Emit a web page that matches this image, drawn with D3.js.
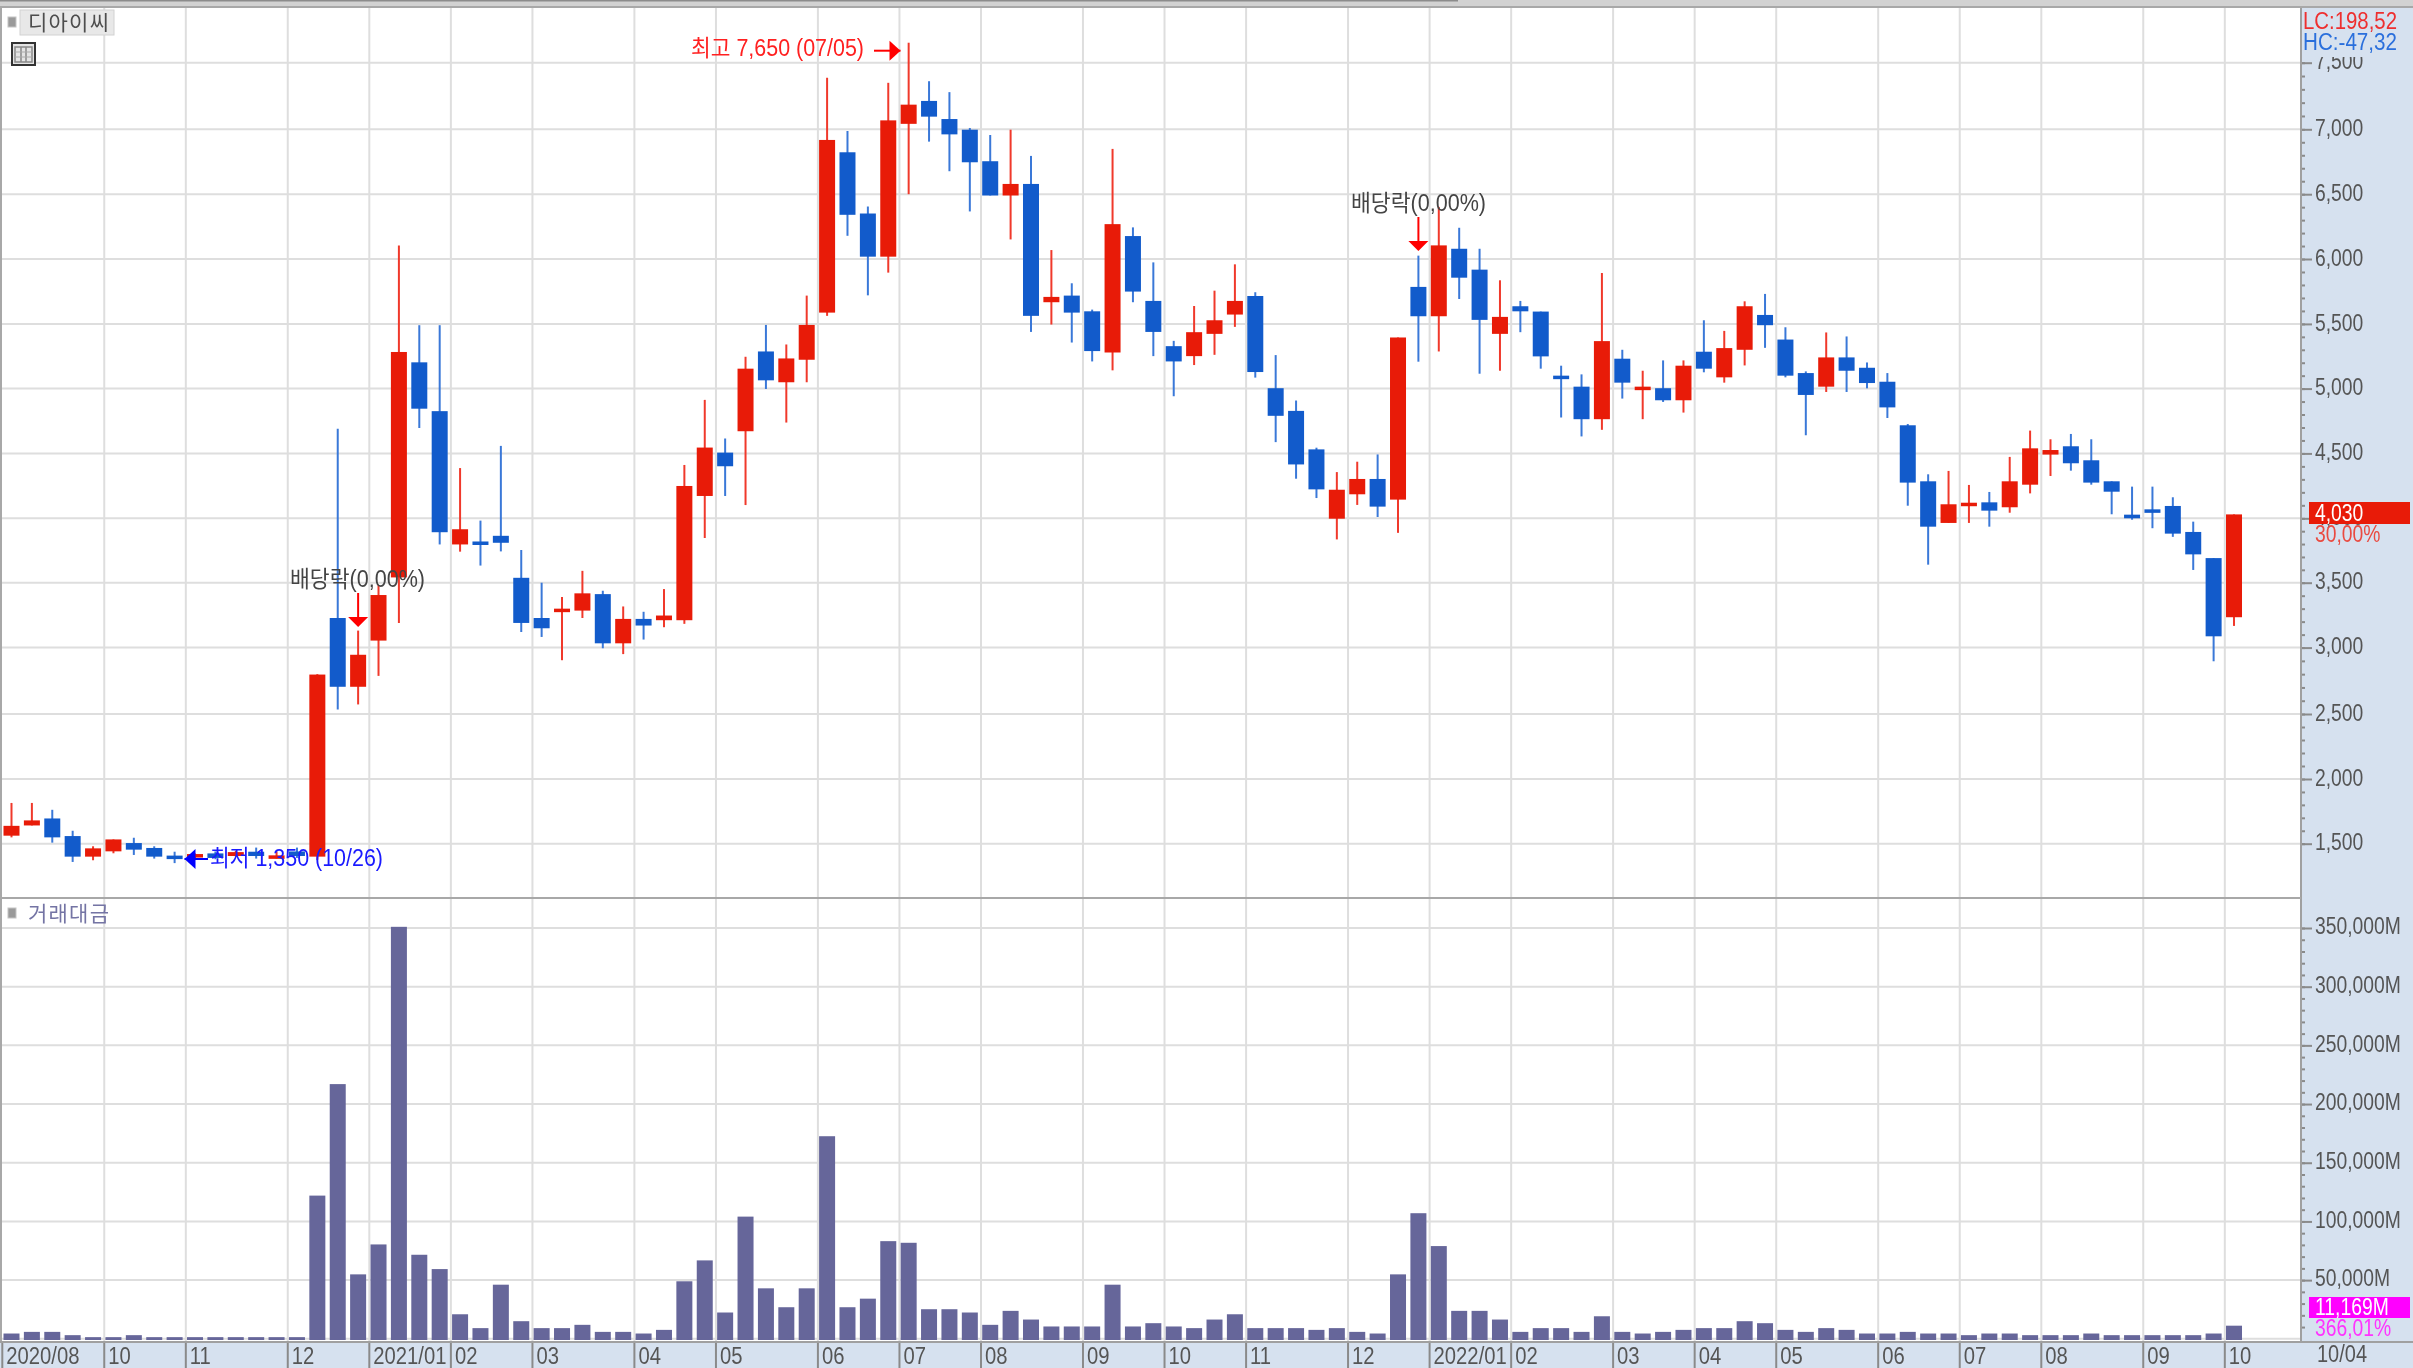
<!DOCTYPE html>
<html lang="ko">
<head>
  <meta charset="UTF-8" />
  <title>디아이씨</title>
  <script src="https://d3js.org/d3.v7.min.js"></script>
  <style>
    html, body { margin: 0; background: #fff; }
    svg { display: block; filter: blur(0.35px); }
    text { font-family: "Liberation Sans", "Noto Sans CJK KR", sans-serif; font-size: 23px; }
    .kr { font-family: "Noto Sans CJK KR", sans-serif; }
    .tick line { stroke: #8a8a8a; stroke-width: 2px; }
    .tick text { fill: #555; }
    .domain { display: none; }
  </style>
</head>
<body>
<svg width="2413" height="1368"></svg>

<script>
// weekly candles, 2020/08/31 .. 2022/10/03
const opens = [1562,1641,1695,1559,1400,1441,1505,1467,1408,1395,1425,1405,1438,1400,1440,1400,3228,2705,3054,3541,5203,4826,3797,3820,3864,3538,3228,3285,3285,3412,3033,3221,3211,3211,4172,4506,4671,5287,5049,5223,5587,6823,6351,6018,7041,7213,7077,6997,6754,6490,6579,5667,5718,5597,5279,6177,5677,5328,5251,5423,5572,5715,5003,4828,4531,3997,4185,4303,4144,5785,5559,6079,5918,5423,5636,5595,5100,5015,4764,5231,4992,5003,4910,5285,5087,5300,5569,5379,5120,5015,5241,5161,5053,4717,4285,3964,4097,4123,4085,4259,4491,4555,4447,4285,4028,4069,4095,3894,3691,3234];
const highs = [1815,1815,1762,1600,1480,1533,1546,1480,1438,1425,1440,1445,1470,1440,1470,2800,4690,3131,3482,6105,5490,5490,4387,3982,4558,3754,3500,3390,3592,3438,3317,3276,3451,4411,4913,4615,5246,5492,5341,5718,7387,6987,6405,7349,7650,7361,7279,7010,6956,6997,6795,6069,5813,5610,6849,6244,5974,5369,5638,5756,5959,5744,5259,4908,4544,4356,4436,4492,5395,6026,6402,6241,6079,5836,5677,5595,5177,5110,5892,5300,5138,5218,5218,5528,5446,5674,5731,5474,5133,5434,5403,5202,5120,4727,4339,4365,4257,4203,4473,4676,4609,4650,4609,4285,4244,4244,4162,3974,3691,4030];
const lows = [1549,1641,1508,1359,1372,1426,1413,1385,1350,1385,1380,1400,1385,1385,1390,1375,2533,2572,2787,3190,4696,3797,3741,3633,3743,3120,3082,2905,3228,2995,2951,3062,3157,3183,3847,4172,4102,4997,4738,5049,5562,6179,5720,5895,6500,6905,6677,6367,6490,6151,5438,5495,5356,5210,5141,5667,5251,4941,5182,5261,5477,5085,4587,4305,4156,3836,4103,4010,3887,5208,5287,5692,5115,5138,5436,5154,4777,4631,4682,4923,4764,4897,4815,5126,5046,5179,5315,5087,4640,4974,4974,5002,4773,4097,3640,3964,3964,3935,4043,4192,4326,4367,4259,4031,3989,3923,3856,3599,2897,3167];
const closes = [1638,1680,1549,1400,1464,1533,1454,1400,1392,1420,1390,1435,1405,1410,1405,2797,2705,2946,3405,5283,4845,3892,3915,3797,3810,3190,3149,3300,3418,3033,3221,3170,3247,4249,4545,4401,5154,5064,5233,5492,6918,6341,6018,7067,7185,7095,6961,6746,6490,6579,5562,5708,5587,5290,6269,5749,5438,5210,5436,5528,5677,5128,4790,4415,4223,4220,4303,4090,5395,5559,6105,5856,5531,5554,5597,5249,5085,4764,5367,5046,5015,4910,5177,5154,5313,5636,5490,5100,4951,5241,5138,5043,4855,4275,3935,4108,4120,4059,4285,4539,4526,4424,4275,4205,4000,4043,3881,3720,3087,4030];
const volumes = [4500,5900,5900,3100,1400,1400,3100,1400,1400,1400,1400,1400,1400,1400,1400,122000,217000,54900,80400,351000,71600,59400,20900,9100,46100,15000,9100,9100,11900,5900,5900,4500,7600,49000,66800,22400,104100,43000,26900,43000,172600,26900,34200,83200,81800,25200,25200,22400,11900,23800,16400,10500,10500,10500,46100,10500,13300,10500,9100,16400,20900,9100,9100,9100,7600,9100,5900,4500,54900,107000,79000,23800,23800,16400,5900,9100,9100,5900,19200,5900,4500,5900,7600,9100,9100,15000,13300,7600,5900,9100,7600,4500,4500,5900,4500,4500,3100,4500,4500,3100,3100,3100,4500,3100,3100,3100,3100,3100,4500,11169];

// candle index of each month's first week, and its label
const monthStarts = [0,5,9,14,18,22,26,31,35,40,44,48,53,57,61,66,70,74,79,83,87,92,96,100,105,109];
const monthLabels = ["2020/08","10","11","12","2021/01","02","03","04","05","06","07","08","09","10","11","12","2022/01","02","03","04","05","06","07","08","09","10"];

const priceTicks = [1500,2000,2500,3000,3500,4000,4500,5000,5500,6000,6500,7000,7500];
const volumeTicks = [50000,100000,150000,200000,250000,300000,350000];

const RED = "#e81b08", BLUE = "#125bcb", RED_WICK = "#f0392b", BLUE_WICK = "#3a78d8";
const VOL = "#66669a", GRID = "#dedede", PANEL = "#d6e1ef";
const AXIS_X = 2301, BOTTOM = 1342;

const svg = d3.select("svg");
const n = opens.length;

const x = d3.scaleBand().domain(d3.range(n)).range([1.3, 1.3 + n * 20.39]);
const cx = i => x(i) + x.bandwidth() / 2;
const y = d3.scaleLinear()
  .domain(priceTicks)
  .range([843.7,779,714,647.6,582.7,518.3,453.4,388.6,323.9,259,194.2,129.3,62.7]);
const yVol = d3.scaleLinear().domain([0, 350000]).range([1338.8, 928]);

// squeeze a text horizontally, the original uses a narrow bitmap font
function squeeze(sel, k) {
  sel.each(function() {
    const len = this.getComputedTextLength();
    d3.select(this).attr("textLength", len * k).attr("lengthAdjust", "spacingAndGlyphs");
  });
}
function label(xx, yy, color, str, width) {
  const t = svg.append("text").attr("x", xx).attr("y", yy).attr("fill", color).text(str);
  if (width) t.attr("textLength", width).attr("lengthAdjust", "spacingAndGlyphs");
  else squeeze(t, 0.84);
  return t;
}

// panels
svg.append("rect").attr("x", AXIS_X).attr("y", 0).attr("width", 112).attr("height", 1368).attr("fill", PANEL);
svg.append("rect").attr("x", 0).attr("y", BOTTOM).attr("width", 2413).attr("height", 26).attr("fill", PANEL);

// grid
const grid = svg.append("g");
grid.selectAll(".vgrid")
  .data(monthStarts.slice(1))
  .enter().append("line")
  .attr("x1", d => x(d) + 1).attr("x2", d => x(d) + 1)
  .attr("y1", 8).attr("y2", BOTTOM)
  .attr("stroke", GRID).attr("stroke-width", 2);
grid.selectAll(".hgrid")
  .data(priceTicks)
  .enter().append("line")
  .attr("x1", 2).attr("x2", AXIS_X)
  .attr("y1", d => y(d)).attr("y2", d => y(d))
  .attr("stroke", GRID).attr("stroke-width", 2);
grid.selectAll(".vgridh")
  .data([0].concat(volumeTicks))
  .enter().append("line")
  .attr("x1", 2).attr("x2", AXIS_X)
  .attr("y1", d => yVol(d)).attr("y2", d => yVol(d))
  .attr("stroke", GRID).attr("stroke-width", 2);

// volume bars
svg.selectAll(".vol")
  .data(volumes)
  .enter().append("rect")
  .attr("x", (d, i) => cx(i) - 8)
  .attr("width", 16)
  .attr("y", d => yVol(d))
  .attr("height", d => 1340 - yVol(d))
  .attr("fill", VOL);

// candles
const candles = svg.selectAll(".candle")
  .data(d3.range(n))
  .enter().append("g");
candles.append("line")
  .attr("x1", cx).attr("x2", cx)
  .attr("y1", i => y(highs[i])).attr("y2", i => y(lows[i]))
  .attr("stroke", i => closes[i] >= opens[i] ? RED_WICK : BLUE_WICK)
  .attr("stroke-width", 2);
candles.append("rect")
  .attr("x", i => cx(i) - 8)
  .attr("width", 16)
  .attr("y", i => y(Math.max(opens[i], closes[i])))
  .attr("height", i => Math.max(3.5, Math.abs(y(opens[i]) - y(closes[i]))))
  .attr("fill", i => closes[i] >= opens[i] ? RED : BLUE);

// price axis
const priceAxis = svg.append("g").attr("transform", `translate(${AXIS_X},0)`)
  .call(d3.axisRight(y).tickValues(priceTicks).tickSize(11).tickPadding(3).tickFormat(d3.format(",")));
svg.append("g").attr("transform", `translate(${AXIS_X},0)`)
  .call(d3.axisRight(y).tickValues(d3.range(1500, 7600, 100)).tickSize(4).tickFormat(""));

// volume axis
const volAxis = svg.append("g").attr("transform", `translate(${AXIS_X},0)`)
  .call(d3.axisRight(yVol).tickValues(volumeTicks).tickSize(11).tickPadding(3).tickFormat(d => d3.format(",")(d) + "M"));
svg.append("g").attr("transform", `translate(${AXIS_X},0)`)
  .call(d3.axisRight(yVol).tickValues(d3.range(10000, 360000, 10000)).tickSize(4).tickFormat(""));

// date axis
const dateAxis = svg.append("g")
  .attr("transform", `translate(${1 - x.bandwidth() / 2},${BOTTOM})`)
  .call(d3.axisBottom(x).tickValues(monthStarts).tickSize(26).tickFormat(d => monthLabels[monthStarts.indexOf(d)]));
dateAxis.selectAll(".tick text")
  .attr("text-anchor", "start").attr("x", 4).attr("y", 4).attr("dy", "0.8em");

priceAxis.selectAll(".tick text").attr("dy", "0.27em");
volAxis.selectAll(".tick text").attr("dy", "0.25em");
squeeze(priceAxis.selectAll(".tick text"), 0.84);
squeeze(volAxis.selectAll(".tick text"), 0.84);
squeeze(dateAxis.selectAll(".tick text"), 0.88);

// axis frame
svg.append("rect").attr("x", AXIS_X - 1).attr("y", 6).attr("width", 2).attr("height", BOTTOM - 6).attr("fill", "#a0a0a0");
svg.append("rect").attr("x", 0).attr("y", 6).attr("width", 2).attr("height", BOTTOM - 6).attr("fill", "#a8a8a8");
svg.append("rect").attr("x", 0).attr("y", 897).attr("width", AXIS_X).attr("height", 2).attr("fill", "#a8a8a8");
svg.append("rect").attr("x", 0).attr("y", BOTTOM - 1).attr("width", 2413).attr("height", 2).attr("fill", "#a0a0a0");
svg.append("rect").attr("x", 0).attr("y", 0).attr("width", 2413).attr("height", 6).attr("fill", "#d2d2d2");
svg.append("rect").attr("x", 0).attr("y", 0).attr("width", 1458).attr("height", 1.5).attr("fill", "#8c8c8c");
svg.append("rect").attr("x", 0).attr("y", 6).attr("width", 2413).attr("height", 2).attr("fill", "#a8a8a8");

// axis date at the far right
label(2317, 1362, "#555", "10/04", 50);

// top-right readouts, they sit on top of the 7,500 label
svg.append("rect").attr("x", AXIS_X + 1).attr("y", 8).attr("width", 111).attr("height", 49).attr("fill", PANEL);
label(2303, 29, "#ee2f2f", "LC:198,52", 94);
label(2303, 50, "#2a6fdc", "HC:-47,32", 94);

// last price / last volume boxes
svg.append("rect").attr("x", 2309).attr("y", 502).attr("width", 101).attr("height", 22).attr("fill", RED);
label(2315, 521, "#fff", "4,030");
label(2315, 542, "#ea4a40", "30,00%");
svg.append("rect").attr("x", 2309).attr("y", 1297).attr("width", 101).attr("height", 21).attr("fill", "#ff00ff");
label(2315, 1315, "#fff", "11,169M");
label(2315, 1336, "#ff33ff", "366,01%");

// annotations
function arrowH(x1, tip, yy, color) {
  const dir = tip > x1 ? -1 : 1;
  svg.append("line").attr("x1", x1).attr("x2", tip).attr("y1", yy).attr("y2", yy).attr("stroke", color).attr("stroke-width", 2);
  svg.append("path").attr("d", d3.line()([[tip, yy], [tip + dir * 11, yy - 10], [tip + dir * 11, yy + 10]])).attr("fill", color);
}
function arrowDown(xx, y1, tip, color) {
  svg.append("line").attr("x1", xx).attr("x2", xx).attr("y1", y1).attr("y2", tip - 8).attr("stroke", color).attr("stroke-width", 2);
  svg.append("path").attr("d", d3.line()([[xx, tip], [xx - 10, tip - 10], [xx + 10, tip - 10]])).attr("fill", color);
}
label(691, 56, "#ff2020", "최고 7,650 (07/05)", 173);
arrowH(874, 900.5, 50.7, "#ff0000");
label(210, 866, "#1a1aff", "최저 1,350 (10/26)", 173);
arrowH(208, 184.5, 859, "#0000ff");
label(290, 587, "#444", "배당락(0,00%)", 135);
arrowDown(cx(17), 593, 627, "#ff0000");
label(1351, 211, "#444", "배당락(0,00%)", 135);
arrowDown(cx(69), 217, 251, "#ff0000");

// pane headers
function bullet(yy) {
  svg.append("rect").attr("x", 8).attr("y", yy).attr("width", 8).attr("height", 10).attr("fill", "#9a9a9a").attr("stroke", "#c4c4c4");
}
bullet(17);
svg.append("rect").attr("x", 20).attr("y", 10).attr("width", 94).attr("height", 25).attr("fill", "#e8e8e8").attr("stroke", "#d2d2d2");
svg.append("text").attr("class", "kr").attr("x", 28).attr("y", 30).attr("fill", "#4d4d4d").style("font-size", "21px").attr("textLength", 81).text("디아이씨");
bullet(908);
svg.append("text").attr("class", "kr").attr("x", 28).attr("y", 921).attr("fill", "#7474a4").style("font-size", "21px").attr("textLength", 81).text("거래대금");

// small table icon
const icon = svg.append("g");
icon.append("rect").attr("x", 12).attr("y", 43).attr("width", 23).attr("height", 22).attr("fill", "#e4e4e4").attr("stroke", "#333").attr("stroke-width", 2);
icon.append("rect").attr("x", 15).attr("y", 47).attr("width", 17).attr("height", 15).attr("fill", "none").attr("stroke", "#888").attr("stroke-width", 1.5);
[21, 26].forEach(v => icon.append("line").attr("x1", v).attr("x2", v).attr("y1", 47).attr("y2", 62).attr("stroke", "#888").attr("stroke-width", 1.5));
[52, 57].forEach(v => icon.append("line").attr("x1", 15).attr("x2", 32).attr("y1", v).attr("y2", v).attr("stroke", "#aaa"));
</script>
</body>
</html>
